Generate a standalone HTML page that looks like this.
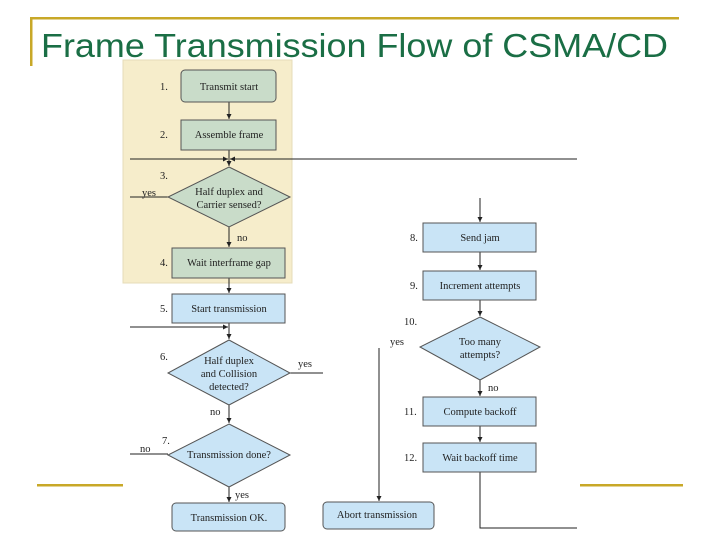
<!DOCTYPE html>
<html><head><style>
body{margin:0;width:720px;height:540px;background:#fff;overflow:hidden}
svg{display:block}
.t{font-family:"Liberation Serif",serif;font-size:10.5px;fill:#222}
</style></head><body>
<svg width="720" height="540" viewBox="0 0 720 540" xmlns="http://www.w3.org/2000/svg">
<defs><marker id="a" markerWidth="6" markerHeight="6" refX="5" refY="3" orient="auto"><path d="M0,0.5 L5,3 L0,5.5z" fill="#222"/></marker></defs>
<rect x="30" y="17" width="649" height="2.5" fill="#c8a828"/>
<rect x="30" y="17" width="2.5" height="49" fill="#c8a828"/>
<rect x="37" y="484" width="86" height="2.5" fill="#c8a828"/>
<rect x="580" y="484" width="103" height="2.5" fill="#c8a828"/>
<text x="41" y="57" font-family="Liberation Sans,sans-serif" font-size="33" fill="#1a6e45" textLength="627" lengthAdjust="spacingAndGlyphs">Frame Transmission Flow of CSMA/CD</text>
<rect x="123" y="60" width="169" height="223" fill="#f6edcb" stroke="#e6dcb8" stroke-width="1"/>
<g stroke="#222" stroke-width="1" fill="none">
<line x1="229" y1="102" x2="229" y2="119" marker-end="url(#a)"/>
<line x1="229" y1="150" x2="229" y2="166" marker-end="url(#a)"/>
<line x1="130" y1="159" x2="228" y2="159" marker-end="url(#a)"/>
<line x1="577" y1="159" x2="230" y2="159" marker-end="url(#a)"/>
<line x1="130" y1="197" x2="168" y2="197"/>
<line x1="229" y1="227" x2="229" y2="247" marker-end="url(#a)"/>
<line x1="229" y1="278" x2="229" y2="293" marker-end="url(#a)"/>
<line x1="229" y1="323" x2="229" y2="339" marker-end="url(#a)"/>
<line x1="130" y1="327" x2="228" y2="327" marker-end="url(#a)"/>
<line x1="290" y1="373" x2="323" y2="373"/>
<line x1="229" y1="405" x2="229" y2="423" marker-end="url(#a)"/>
<line x1="130" y1="454" x2="168" y2="454"/>
<line x1="229" y1="487" x2="229" y2="502" marker-end="url(#a)"/>
<line x1="379" y1="348" x2="379" y2="501" marker-end="url(#a)"/>
<line x1="480" y1="198" x2="480" y2="222" marker-end="url(#a)"/>
<line x1="480" y1="252" x2="480" y2="270" marker-end="url(#a)"/>
<line x1="480" y1="300" x2="480" y2="316" marker-end="url(#a)"/>
<line x1="480" y1="380" x2="480" y2="396" marker-end="url(#a)"/>
<line x1="480" y1="426" x2="480" y2="442" marker-end="url(#a)"/>
<polyline points="480,472 480,528 577,528"/>
</g>
<g stroke="#555" stroke-width="1">
<rect x="181" y="70" width="95" height="32" rx="4" fill="#c9dcc9"/>
<rect x="181" y="120" width="95" height="30" fill="#c9dcc9"/>
<polygon points="229,167 290,197 229,227 168,197" fill="#c9dcc9"/>
<rect x="172" y="248" width="113" height="30" fill="#c9dcc9"/>
<rect x="172" y="294" width="113" height="29" fill="#c9e4f6"/>
<polygon points="229,340 290,373 229,405 168,373" fill="#c9e4f6"/>
<polygon points="229,424 290,455 229,487 168,455" fill="#c9e4f6"/>
<rect x="172" y="503" width="113" height="28" rx="4" fill="#c9e4f6"/>
<rect x="323" y="502" width="111" height="27" rx="4" fill="#c9e4f6"/>
<rect x="423" y="223" width="113" height="29" fill="#c9e4f6"/>
<rect x="423" y="271" width="113" height="29" fill="#c9e4f6"/>
<polygon points="480,317 540,347 480,380 420,347" fill="#c9e4f6"/>
<rect x="423" y="397" width="113" height="29" fill="#c9e4f6"/>
<rect x="423" y="443" width="113" height="29" fill="#c9e4f6"/>
</g>
<g class="t" text-anchor="middle">
<text x="229" y="90">Transmit start</text>
<text x="229" y="138">Assemble frame</text>
<text x="229" y="195">Half duplex and</text>
<text x="229" y="208">Carrier sensed?</text>
<text x="229" y="266">Wait interframe gap</text>
<text x="229" y="312">Start transmission</text>
<text x="229" y="364">Half duplex</text>
<text x="229" y="377">and Collision</text>
<text x="229" y="390">detected?</text>
<text x="229" y="458">Transmission done?</text>
<text x="229" y="521">Transmission OK.</text>
<text x="377" y="518">Abort transmission</text>
<text x="480" y="241">Send jam</text>
<text x="480" y="289">Increment attempts</text>
<text x="480" y="345">Too many</text>
<text x="480" y="358">attempts?</text>
<text x="480" y="415">Compute backoff</text>
<text x="480" y="461">Wait backoff time</text>
</g>
<g class="t">
<text x="160" y="90">1.</text>
<text x="160" y="138">2.</text>
<text x="160" y="179">3.</text>
<text x="160" y="266">4.</text>
<text x="160" y="312">5.</text>
<text x="160" y="360">6.</text>
<text x="162" y="444">7.</text>
<text x="410" y="241">8.</text>
<text x="410" y="289">9.</text>
<text x="404" y="325">10.</text>
<text x="404" y="415">11.</text>
<text x="404" y="461">12.</text>
<text x="142" y="196">yes</text>
<text x="237" y="241">no</text>
<text x="298" y="367">yes</text>
<text x="210" y="415">no</text>
<text x="140" y="452">no</text>
<text x="235" y="498">yes</text>
<text x="390" y="345">yes</text>
<text x="488" y="391">no</text>
</g>
</svg>
</body></html>
